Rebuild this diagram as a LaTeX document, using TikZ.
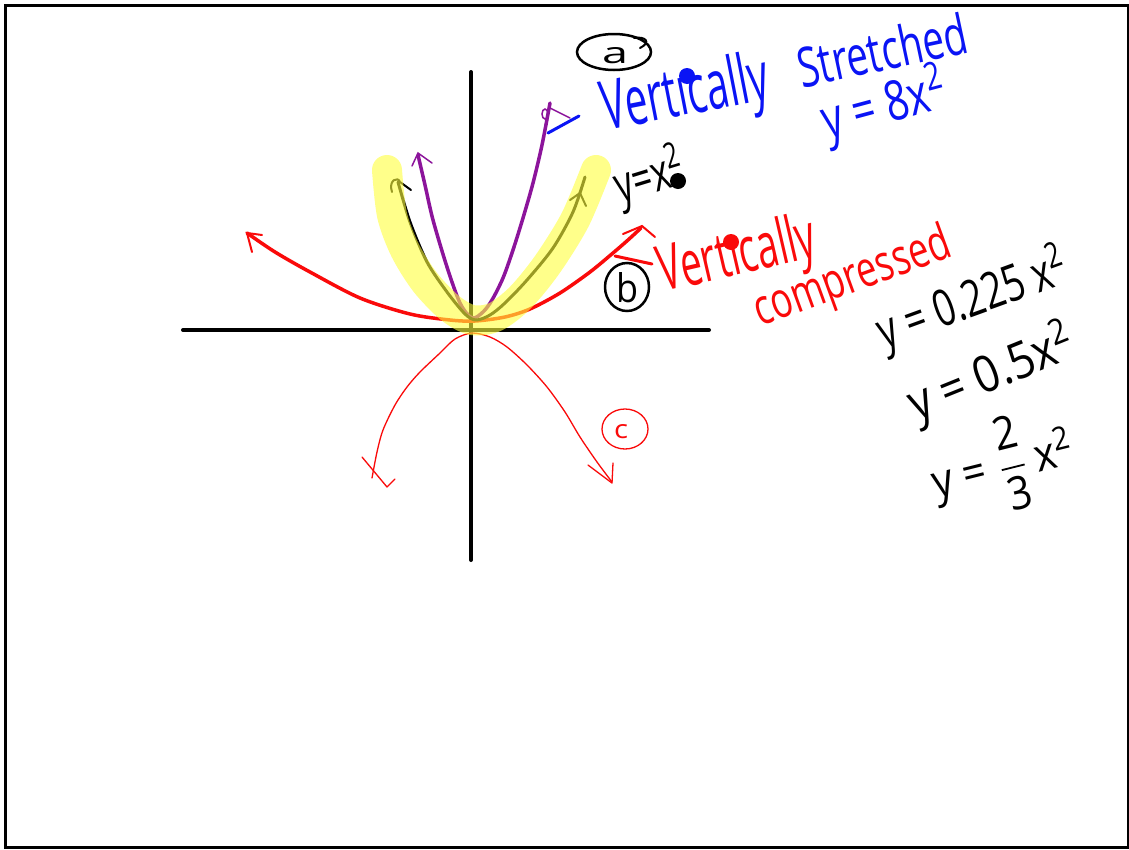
\documentclass[tikz,border=0pt]{standalone}
\usepackage{amsmath}
\usepackage{fontspec}
\setmainfont{Open Sans}
\usepackage{graphicx}
\definecolor{inkblue}{RGB}{10,20,245}
\definecolor{inkred}{RGB}{250,10,10}
\definecolor{inkpurple}{RGB}{140,20,155}
\definecolor{hilite}{RGB}{255,255,60}
\newcommand\hw[3]{\resizebox{#1pt}{#2pt}{#3}}
\tikzset{
  axis/.style={line width=4pt, line cap=round},
  ink/.style={line width=3pt, line cap=round, line join=round},
  thinink/.style={line width=1.3pt, line cap=round, line join=round},
  hand/.style={inner sep=0pt, outer sep=0pt},
}
\begin{document}
\begin{tikzpicture}[x=1pt,y=-1pt]
\useasboundingbox (0,0) rectangle (1129,849);
\fill[white] (0,0) rectangle (1129,849);
\draw[line width=3pt] (5,5) rectangle (1128,847);

% axes
\draw[axis] (183,330) -- (709,330);
\draw[axis] (471,72) -- (471,560);

% c: downward thin red parabola
\draw[thinink, inkred] plot[smooth] coordinates {(372,478) (377,452) (383,430) (395,405) (407,387) (420,372) (440,353) (455,339) (472,333) (490,337) (507,347) (527,365) (547,387) (565,412) (580,437) (597,462) (612,482)};
\draw[thinink, inkred] (362,457) -- (387,487) -- (395,479);
\draw[thinink, inkred] (588,465) -- (612,483) -- (613,463);

% purple y=8x^2
\draw[ink, inkpurple, line width=3.5pt] plot[smooth] coordinates {(418,155) (425,185) (433,220) (447,267) (460,303) (472,318) (483,312) (492,300) (503,278) (513,250) (523,218) (533,183) (542,145) (550,103)};
\draw[inkpurple, line width=1.5pt, line cap=round] (412,166) -- (418,153) -- (432,163);
\draw[inkpurple, line width=1.5pt, line cap=round] (550,108) -- (570,118);
\draw[inkpurple, line width=1.5pt] (545,114) ellipse (3 and 5);

% red compressed
\draw[ink, inkred, line width=3.5pt] plot[smooth] coordinates {(247,233) (275,252) (310,272) (360,298) (410,314) (450,320) (475,321) (505,317) (530,309) (560,293) (590,272) (613,253) (628,240) (641,228)};
\draw[inkred, line width=2pt, line cap=round] (262,235) -- (247,233) -- (252,252);
\draw[inkred, line width=2pt, line cap=round] (623,234) -- (642,226) -- (655,237);
\draw[inkred, line width=3pt, line cap=round] (615,256) -- (652,264);

% black y=x^2
\draw[ink, black] plot[smooth] coordinates {(398,182) (410,222) (427,262) (447,292) (465,314) (476,320) (490,315) (505,303) (527,280) (553,248) (573,212) (585,177)};
\draw[black, line width=2pt, line cap=round] (392,192) .. controls (388,180) and (398,176) .. (400,182) -- (411,190);
\draw[black, line width=2pt, line cap=round] (570,200) -- (580,193) -- (586,206);

% yellow highlight
\draw[hilite, opacity=0.6, line width=30pt, line cap=round, line join=round] plot[smooth] coordinates {(387,170) (392,215) (405,250) (425,282) (450,308) (472,320) (495,317) (520,298) (547,265) (575,220) (596,170)};

% blue connector
\draw[inkblue, ink] (548,133) -- (579,116);

% label a
\draw[black, line width=2.5pt] (614,52) ellipse (37 and 18);
\draw[black, line width=2pt, line cap=round] (634,38) .. controls (645,36) and (652,42) .. (640,48);
\node[hand] (la) at (615,56) {\hw{26}{16}{a}};

% blue texts
\node[hand, text=inkblue, rotate=11] (vs) at (686,97) {\hw{168}{52}{Vert\i cally}};
\fill[inkblue] (687,76) circle (8);
\node[hand, text=inkblue, rotate=12] (st) at (882,50) {\hw{172}{42}{Stretched}};
\node[hand, text=inkblue, rotate=15] (e8) at (885,106) {\hw{128}{48}{y = 8x\textsuperscript{2}}};

% black y=x^2
\node[hand, rotate=17] (e1) at (650,178) {\hw{72}{44}{y=x\textsuperscript{2}}};
\fill[black] (678,181) circle (8);

% label b
\draw[black, line width=2.5pt] (627,287) ellipse (22 and 24);
\node[hand] (lb) at (627,288) {\hw{22}{30}{b}};

% red texts
\node[hand, text=inkred, rotate=13] (vc) at (738,258) {\hw{160}{48}{Vert\i cally}};
\fill[inkred] (731,242) circle (8);
\node[hand, text=inkred, rotate=20] (cp) at (853,279) {\hw{206}{38}{compressed}};

% equations
\node[hand, rotate=20] (q1) at (973,300) {\hw{200}{44}{y = 0.225 x\textsuperscript{2}}};
\node[hand, rotate=22] (q2) at (992,374) {\hw{176}{44}{y = 0.5x\textsuperscript{2}}};
\node[hand, rotate=14] (q3) at (1003,465) {\hw{146}{64}{y = $\dfrac{\text{2}}{\text{3}}$\,x\textsuperscript{2}}};

% label c
\draw[inkred, line width=1.3pt] (625,429) ellipse (23 and 20);
\node[hand, text=inkred] (lc) at (621,432) {\hw{14}{14}{c}};
\end{tikzpicture}
\end{document}
